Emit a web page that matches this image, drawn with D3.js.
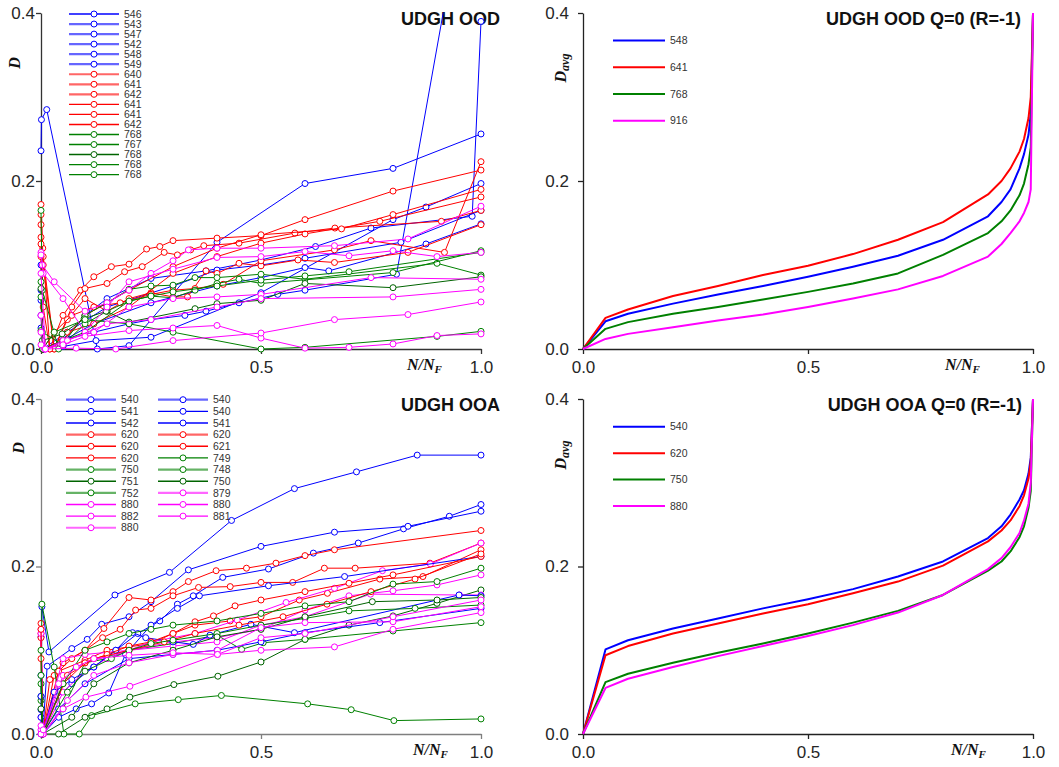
<!DOCTYPE html>
<html>
<head>
<meta charset="utf-8">
<script src="https://cdn.jsdelivr.net/npm/d3@7"></script>
<style>
  body { margin: 0; background: #fff; }
  svg { display: block; }
  text { font-family: "Liberation Sans", Arial, sans-serif; }
</style>
</head>
<body>
<svg id="chart" width="1059" height="767"></svg>
<script>
// ---------------- data ----------------
const xTicks = [0, 0.5, 1.0];
const yTicks = [0, 0.2, 0.4];

// UDGH OOD: damage D vs N/NF, one series per specimen
const oodLabels = ["546","543","547","542","548","549","640","641","642","641","641","642","768","767","768","768","768"];
const oodX = [
  [0,0.001,0.013,0.128,0.2,0.4,0.6,0.8,1.0],
  [0,0.004,0.06,0.12,0.2,0.25,0.327,0.375,0.45,0.538,0.6,0.808,0.93],
  [0,0.005,0.05,0.1,0.15,0.25,0.375,0.5,0.624,0.75,0.98,1.0],
  [0,0.005,0.05,0.125,0.25,0.5,0.8,0.875,1.0],
  [0,0.005,0.05,0.12,0.25,0.4,0.5,0.6,0.654,0.875,1.0],
  [0,0.004,0.06,0.15,0.3,0.4,0.5,0.6,0.818,1.0],
  [0,0.004,0.02,0.05,0.09,0.12,0.16,0.2,0.24,0.27,0.3,0.4,0.5,0.6,0.8,1.0],
  [0,0.005,0.03,0.07,0.1,0.15,0.19,0.23,0.28,0.31,0.34,0.37,0.45,0.577,0.668,0.91,1.0],
  [0,0.005,0.03,0.06,0.1,0.15,0.2,0.25,0.3,0.333,0.375,0.4,0.45,0.5,0.584,0.667,0.834,1.0],
  [0,0.004,0.03,0.07,0.12,0.18,0.25,0.3,0.35,0.414,0.5,0.667,0.75,0.917,1.0],
  [0,0.005,0.02,0.06,0.12,0.2,0.3,0.4,0.5,0.6,0.77,1.0],
  [0,0.003,0.05,0.1,0.2,0.3,0.4,0.5,0.683,0.8,1.0],
  [0,0.003,0.04,0.1,0.15,0.2,0.25,0.3,0.35,0.4,0.5,0.6,0.9,1.0],
  [0,0.003,0.05,0.1,0.15,0.2,0.25,0.3,0.35,0.4,0.45,0.5,0.8,1.0],
  [0,0.003,0.048,0.098,0.148,0.2,0.35,0.4,0.5,0.6,0.8,1.0],
  [0,0.004,0.03,0.1,0.2,0.3,0.5,0.6,0.9,1.0],
  [0,0.004,0.05,0.1,0.2,0.25,0.3,0.4,0.5,0.6,0.7,1.0],
  [0,0.003,0.03,0.1,0.15,0.2,0.25,0.3,0.335,0.4,0.5,0.667,0.834,1.0],
  [0,0.005,0.05,0.1,0.15,0.2,0.3,0.4,0.5,0.6,0.7,0.8,0.9,1.0],
  [0,0.01,0.05,0.12,0.2,0.3,0.4,0.5,0.75,1.0],
  [0,0.01,0.06,0.15,0.25,0.4,0.5,0.8,1.0],
  [0,0.008,0.05,0.1,0.2,0.3,0.4,0.5,0.6,0.7,0.8,0.9,1.0],
  [0,0.01,0.08,0.17,0.3,0.5,0.667,0.834,1.0]
];
const oodD = [
  [0.236,0.273,0.285,0.0,0.004,0.127,0.197,0.215,0.256],
  [0.1,0.0,0.012,0.02,0.03,0.035,0.04,0.045,0.055,0.065,0.07,0.089,0.447],
  [0.058,0.0,0.01,0.04,0.06,0.084,0.093,0.106,0.122,0.144,0.158,0.39],
  [0.04,0.0,0.003,0.01,0.014,0.067,0.154,0.169,0.197],
  [0.025,0.0,0.01,0.03,0.055,0.075,0.085,0.097,0.093,0.125,0.149],
  [0.07,0.0,0.02,0.05,0.075,0.094,0.1,0.108,0.127,0.165],
  [0.172,0.12,0.0,0.04,0.07,0.086,0.098,0.101,0.119,0.122,0.129,0.132,0.135,0.154,0.188,0.213],
  [0.133,0.1,0.0,0.05,0.072,0.078,0.092,0.098,0.115,0.112,0.118,0.123,0.126,0.138,0.144,0.152,0.165],
  [0.148,0.11,0.0,0.035,0.06,0.045,0.06,0.067,0.062,0.062,0.093,0.09,0.102,0.099,0.106,0.103,0.115,0.148],
  [0.11,0.0,0.02,0.04,0.05,0.055,0.065,0.07,0.072,0.077,0.105,0.118,0.129,0.115,0.223],
  [0.16,0.05,0.0,0.02,0.03,0.05,0.09,0.11,0.126,0.137,0.152,0.181],
  [0.125,0.0,0.01,0.04,0.07,0.098,0.12,0.136,0.143,0.16,0.19],
  [0.165,0.07,0.0,0.04,0.055,0.071,0.075,0.076,0.085,0.085,0.089,0.083,0.102,0.088],
  [0.08,0.02,0.005,0.03,0.045,0.057,0.063,0.061,0.07,0.078,0.083,0.078,0.091,0.117],
  [0.072,0.01,0.018,0.036,0.045,0.032,0.048,0.054,0.058,0.078,0.073,0.086],
  [0.022,0.0,0.02,0.035,0.03,0.02,0.0,0.002,0.015,0.021],
  [0.062,0.0,0.01,0.02,0.057,0.063,0.068,0.075,0.082,0.087,0.092,0.115],
  [0.115,0.1,0.08,0.045,0.055,0.07,0.09,0.105,0.118,0.12,0.12,0.123,0.131,0.17],
  [0.112,0.09,0.06,0.02,0.05,0.08,0.095,0.109,0.11,0.116,0.111,0.117,0.11,0.115],
  [0.09,0.0,0.01,0.02,0.05,0.06,0.062,0.065,0.085,0.083],
  [0.04,0.0,0.01,0.03,0.035,0.05,0.06,0.062,0.071],
  [0.02,0.0,0.005,0.015,0.022,0.025,0.028,0.013,0.001,0.002,0.006,0.016,0.018],
  [0.005,0.0,0.001,0.0,0.01,0.019,0.035,0.041,0.056]
];

// UDGH OOA: damage D vs N/NF (legend: first 12 in column one, rest in column two)
const ooaLabels = ["540","541","542","620","620","620","750","751","752","880","882","880",
                   "540","540","541","620","621","749","748","750","879","880","881"];
const ooaX = [
  [0,0.002,0.018,0.168,0.292,0.433,0.576,0.717,0.855,1.0],
  [0,0.004,0.03,0.07,0.12,0.17,0.22,0.27,0.31,0.346,0.413,0.517,0.619,0.721,0.824,0.928,1.0],
  [0,0.004,0.014,0.07,0.105,0.138,0.2,0.25,0.335,0.5,0.667,0.834,1.0],
  [0,0.004,0.02,0.05,0.1,0.143,0.2,0.25,0.3,0.335,0.398,0.467,0.534,0.6,0.667,1.0],
  [0,0.004,0.03,0.07,0.1,0.14,0.18,0.215,0.25,0.3,0.358,0.43,0.5,0.572,0.644,0.714,0.884,1.0],
  [0,0.004,0.04,0.1,0.15,0.2,0.25,0.3,0.35,0.43,0.5,0.587,0.651,0.77,0.868,1.0],
  [0,0.002,0.03,0.052,0.087,0.115,0.214,0.312,0.41,0.606,0.705,0.802,1.0],
  [0,0.004,0.04,0.1,0.15,0.202,0.302,0.402,0.5,0.6,0.7,0.8,0.9,1.0],
  [0,0.004,0.05,0.1,0.15,0.2,0.3,0.4,0.456,0.505,0.6,0.8,1.0],
  [0,0.005,0.05,0.1,0.15,0.2,0.25,0.3,0.35,0.446,0.557,0.667,0.776,0.885,1.0],
  [0,0.005,0.05,0.1,0.2,0.3,0.4,0.5,0.6,0.7,0.8,0.9,1.0],
  [0,0.005,0.05,0.1,0.2,0.3,0.4,0.5,0.6,0.749,0.951,1.0],
  [0,0.004,0.04,0.08,0.115,0.154,0.192,0.25,0.31,0.36,0.517,0.69,1.0],
  [0,0.003,0.03,0.07,0.12,0.17,0.208,0.238,0.3,0.346,0.384,0.477,0.576,0.95,1.0],
  [0,0.003,0.04,0.1,0.2,0.3,0.4,0.5,0.6,0.77,1.0],
  [0,0.004,0.05,0.1,0.15,0.2,0.25,0.3,0.35,0.392,0.441,0.5,0.6,0.7,0.8,1.0],
  [0,0.004,0.06,0.12,0.2,0.28,0.35,0.45,0.55,0.65,0.75,0.85,1.0],
  [0,0.004,0.05,0.1,0.15,0.2,0.25,0.3,0.4,0.5,0.6,0.7,0.8,0.9,1.0],
  [0,0.004,0.06,0.1,0.16,0.2,0.25,0.3,0.4,0.5,0.6,0.7,0.85,1.0],
  [0,0.004,0.07,0.12,0.2,0.3,0.4,0.5,0.6,0.753,0.9,1.0],
  [0,0.005,0.06,0.12,0.2,0.3,0.401,0.5,0.6,0.8,1.0],
  [0,0.005,0.05,0.102,0.202,0.401,0.5,0.667,0.8,1.0],
  [0,0.005,0.04,0.08,0.12,0.2,0.3,0.401,0.5,0.6,0.8,1.0]
];
const ooaD = [
  [0.0,0.152,0.098,0.166,0.193,0.255,0.293,0.313,0.333,0.333],
  [0.029,0.0,0.04,0.06,0.08,0.1,0.12,0.135,0.155,0.165,0.187,0.197,0.216,0.228,0.245,0.26,0.274],
  [0.116,0.0,0.081,0.102,0.113,0.131,0.14,0.158,0.196,0.224,0.241,0.248,0.266],
  [0.132,0.0,0.065,0.085,0.1,0.126,0.163,0.16,0.17,0.182,0.195,0.198,0.204,0.213,0.22,0.243],
  [0.12,0.0,0.07,0.09,0.1,0.115,0.125,0.148,0.15,0.165,0.175,0.176,0.181,0.181,0.198,0.198,0.204,0.228],
  [0.115,0.0,0.075,0.088,0.1,0.104,0.108,0.12,0.13,0.135,0.14,0.16,0.168,0.185,0.188,0.22],
  [0.04,0.155,0.08,0.0,0.0,0.022,0.036,0.041,0.046,0.036,0.029,0.016,0.018],
  [0.045,0.0,0.0,0.02,0.03,0.044,0.059,0.069,0.086,0.113,0.13,0.141,0.156,0.172],
  [0.06,0.0,0.03,0.085,0.09,0.1,0.108,0.118,0.101,0.109,0.113,0.123,0.133],
  [0.02,0.0,0.05,0.075,0.09,0.1,0.11,0.115,0.12,0.136,0.157,0.174,0.195,0.203,0.228],
  [0.12,0.0,0.07,0.085,0.1,0.11,0.115,0.125,0.148,0.165,0.171,0.178,0.19],
  [0.125,0.0,0.09,0.095,0.1,0.105,0.11,0.13,0.14,0.167,0.166,0.166],
  [0.07,0.0,0.02,0.03,0.036,0.049,0.095,0.13,0.15,0.165,0.177,0.188,0.212],
  [0.045,0.0,0.05,0.065,0.08,0.1,0.121,0.115,0.11,0.107,0.118,0.131,0.121,0.166,0.165],
  [0.02,0.0,0.03,0.06,0.09,0.095,0.1,0.11,0.121,0.133,0.15],
  [0.125,0.0,0.06,0.085,0.095,0.105,0.11,0.12,0.134,0.141,0.153,0.16,0.17,0.18,0.19,0.212],
  [0.09,0.0,0.07,0.09,0.1,0.11,0.12,0.13,0.14,0.155,0.17,0.185,0.215],
  [0.1,0.0,0.06,0.1,0.11,0.12,0.125,0.13,0.135,0.144,0.153,0.158,0.179,0.182,0.198],
  [0.07,0.0,0.05,0.075,0.09,0.1,0.108,0.112,0.12,0.13,0.138,0.147,0.15,0.154],
  [0.03,0.0,0.02,0.06,0.085,0.1,0.116,0.125,0.14,0.158,0.16,0.163],
  [0.005,0.0,0.04,0.07,0.085,0.095,0.1,0.127,0.133,0.134,0.152],
  [0.01,0.0,0.03,0.044,0.057,0.095,0.1,0.104,0.125,0.145],
  [0.0,0.005,0.06,0.08,0.09,0.094,0.097,0.095,0.115,0.12,0.14,0.16]
];

// Averaged curves, Q=0 (R=-1)
const avgX = [0,0.05,0.1,0.2,0.3,0.4,0.5,0.6,0.7,0.8,0.9,0.93,0.95,0.97,0.98,0.99,0.995,1.0];
const oodAvgLabels = ["548","641","768","916"];
const oodAvgD = [
  [0,0.033,0.042,0.054,0.065,0.075,0.086,0.098,0.111,0.13,0.158,0.175,0.19,0.215,0.232,0.255,0.28,0.4],
  [0,0.037,0.047,0.063,0.075,0.088,0.099,0.113,0.13,0.151,0.184,0.2,0.215,0.235,0.25,0.275,0.3,0.4],
  [0,0.024,0.032,0.042,0.05,0.059,0.068,0.078,0.09,0.112,0.138,0.152,0.165,0.183,0.197,0.22,0.24,0.4],
  [0,0.012,0.018,0.026,0.034,0.041,0.05,0.06,0.071,0.087,0.11,0.125,0.138,0.152,0.162,0.175,0.19,0.4]
];
const ooaAvgLabels = ["540","620","750","880"];
const ooaAvgD = [
  [0,0.101,0.112,0.126,0.138,0.15,0.161,0.173,0.188,0.206,0.234,0.248,0.262,0.28,0.291,0.311,0.33,0.4],
  [0,0.094,0.105,0.12,0.132,0.144,0.155,0.168,0.182,0.201,0.23,0.243,0.255,0.272,0.285,0.305,0.325,0.4],
  [0,0.062,0.072,0.085,0.097,0.108,0.12,0.133,0.147,0.166,0.195,0.206,0.218,0.235,0.248,0.27,0.29,0.4],
  [0,0.055,0.066,0.08,0.093,0.105,0.117,0.13,0.145,0.166,0.197,0.21,0.223,0.24,0.255,0.275,0.3,0.4]
];

// ---------------- styles ----------------
const BLUE = "#0000ff", RED = "#ff0000", GREEN = "#008000", DKGREEN = "#006400", MAGENTA = "#ff00ff";
const oodColors = [BLUE,BLUE,BLUE,BLUE,BLUE,BLUE, RED,RED,RED,RED,RED,RED,
                   GREEN,GREEN,DKGREEN,GREEN,GREEN, MAGENTA,MAGENTA,MAGENTA,MAGENTA,MAGENTA,MAGENTA];
const oodLegendSoft = [false,true,true,true,true,true, true,true,true,false,false,false, false,false,false,false,false];
const ooaColors = [BLUE,BLUE,BLUE, RED,RED,RED, GREEN,DKGREEN,GREEN, MAGENTA,MAGENTA,MAGENTA,
                   BLUE,BLUE,BLUE, RED,RED, GREEN,GREEN,DKGREEN, MAGENTA,MAGENTA,MAGENTA];
const ooaLegendSoft = [true,false,false, true,false,false, true,false,true, false,false,true,
                       true,false,false, true,false, false,true,false, true,false,false];
const avgColors = [BLUE, RED, GREEN, MAGENTA];

const svg = d3.select("#chart");
const serif = "'Liberation Serif','DejaVu Serif',serif";

function frame(box) {
  const x = d3.scaleLinear().domain([0, 1]).range([box.left, box.right]);
  const y = d3.scaleLinear().domain([0, 0.4]).range([box.bottom, box.top]);
  const g = svg.append("g");

  const ya = g.append("g")
    .attr("transform", `translate(${box.left},0)`)
    .call(d3.axisLeft(y).tickValues(yTicks).tickFormat(d3.format(".1f"))
      .tickSize(5).tickSizeOuter(0).tickPadding(box.yPad));
  const xa = g.append("g")
    .attr("transform", `translate(0,${box.bottom})`)
    .call(d3.axisBottom(x).tickValues(xTicks).tickFormat(d3.format(".1f"))
      .tickSize(5).tickSizeOuter(0).tickPadding(7));
  [ya, xa].forEach(a => {
    a.select(".domain").attr("stroke", box.axis).attr("stroke-width", 1.3);
    a.selectAll(".tick line").attr("stroke", box.axis).attr("stroke-width", 1.3);
    a.selectAll(".tick text").attr("fill", "#262626")
      .style("font-family", "'Liberation Sans', Arial, sans-serif").style("font-size", "17px");
  });

  // title
  g.append("text").attr("x", box.titleRight).attr("y", box.top + 12)
    .attr("text-anchor", "end").attr("fill", "#111")
    .style("font-size", "18px").style("font-weight", "bold").text(box.title);

  // y label
  const yl = g.append("text")
    .attr("transform", `translate(${box.yLabelX},${box.top + box.yLabelDy}) rotate(-90)`)
    .attr("text-anchor", "middle").attr("dominant-baseline", "middle")
    .style("font-family", serif).style("font-style", "italic").style("font-weight", "bold")
    .style("font-size", "16px").attr("fill", "#111");
  yl.append("tspan").text("D");
  if (box.avg) yl.append("tspan").attr("dy", 4).style("font-size", "12px").text("avg");

  // x label
  const xl = g.append("text").attr("x", box.xLabelX).attr("y", box.bottom + 21)
    .style("font-family", serif).style("font-style", "italic").style("font-weight", "bold")
    .style("font-size", "16px").attr("fill", "#111");
  xl.append("tspan").text("N/N");
  xl.append("tspan").attr("dy", 3).style("font-size", "11px").text("F");

  return { g, x, y };
}

function clipFor(id, box) {
  svg.append("clipPath").attr("id", id).append("rect")
    .attr("x", box.left - 10).attr("y", box.top - 0.5)
    .attr("width", box.right - box.left + 20).attr("height", box.bottom - box.top + 12);
  return `url(#${id})`;
}

// ------- panels with individual specimens -------
function specimenPanel(box, xs, ds, colors, labels, soft, legendPos) {
  const { g, x, y } = frame(box);
  const plot = g.append("g").attr("clip-path", clipFor(box.id, box));
  const line = d3.line().x(p => x(p[0])).y(p => y(p[1]));
  xs.forEach((xv, i) => {
    const pts = d3.zip(xv, ds[i]);
    const s = plot.append("g");
    s.append("path").attr("d", line(pts)).attr("fill", "none")
      .attr("stroke", colors[i]).attr("stroke-width", 1);
    s.selectAll("circle").data(pts).join("circle")
      .attr("cx", p => x(p[0])).attr("cy", p => y(p[1])).attr("r", 3)
      .attr("fill", "#fff").attr("stroke", colors[i]).attr("stroke-width", 1);
  });

  // legend
  const lg = g.append("g");
  labels.forEach((lab, i) => {
    const p = legendPos(i);
    const row = lg.append("g").attr("transform", `translate(${p.x},${p.y})`);
    row.append("line").attr("x1", 0).attr("x2", p.len).attr("y1", 0).attr("y2", 0)
      .attr("stroke", colors[i]).attr("stroke-width", soft[i] ? 2.2 : 1.4)
      .attr("stroke-opacity", soft[i] ? 0.6 : 1);
    row.append("circle").attr("cx", p.len / 2).attr("cy", 0).attr("r", 3)
      .attr("fill", "#fff").attr("stroke", colors[i]).attr("stroke-width", 1);
    row.append("text").attr("x", p.len + 5).attr("y", 0).attr("dy", "0.35em")
      .style("font-size", "10.5px").attr("fill", "#333").text(lab);
  });
}

// ------- averaged curve panels -------
function averagePanel(box, ds, colors, labels, legendTop, legendStep) {
  const { g, x, y } = frame(box);
  const plot = g.append("g").attr("clip-path", clipFor(box.id, box));
  const line = d3.line().x(p => x(p[0])).y(p => y(p[1]));
  ds.forEach((dv, i) => {
    plot.append("path").attr("d", line(d3.zip(avgX, dv))).attr("fill", "none")
      .attr("stroke", colors[i]).attr("stroke-width", 2).attr("stroke-linejoin", "round");
  });
  labels.forEach((lab, i) => {
    const yy = legendTop + i * legendStep;
    g.append("line").attr("x1", box.left + 30).attr("x2", box.left + 82)
      .attr("y1", yy).attr("y2", yy).attr("stroke", colors[i]).attr("stroke-width", 2);
    g.append("text").attr("x", box.left + 87).attr("y", yy).attr("dy", "0.35em")
      .style("font-size", "10.5px").attr("fill", "#333").text(lab);
  });
}

const TL = { id: "cTL", left: 41, right: 481, top: 13, bottom: 349, axis: "#333", yPad: 1,
  title: "UDGH OOD", titleRight: 500, yLabelX: 16, yLabelDy: 50, xLabelX: 407, avg: false };
const TR = { id: "cTR", left: 583, right: 1033, top: 13, bottom: 349, axis: "#222", yPad: 9,
  title: "UDGH OOD Q=0 (R=-1)", titleRight: 1021, yLabelX: 562, yLabelDy: 55, xLabelX: 945, avg: true };
const BL = { id: "cBL", left: 41, right: 481, top: 399, bottom: 734, axis: "#7f7f7f", yPad: 1,
  title: "UDGH OOA", titleRight: 500, yLabelX: 20, yLabelDy: 49, xLabelX: 413, avg: false };
const BR = { id: "cBR", left: 583, right: 1033, top: 399, bottom: 734, axis: "#222", yPad: 9,
  title: "UDGH OOA Q=0 (R=-1)", titleRight: 1022, yLabelX: 562, yLabelDy: 56, xLabelX: 951, avg: true };

specimenPanel(TL, oodX, oodD, oodColors, oodLabels, oodLegendSoft,
  i => ({ x: 69, y: 14 + i * 10.04, len: 50 }));
averagePanel(TR, oodAvgD, avgColors, oodAvgLabels, 40.4, 26.8);
specimenPanel(BL, ooaX, ooaD, ooaColors, ooaLabels, ooaLegendSoft,
  i => i < 12 ? { x: 66, y: 399.7 + i * 11.64, len: 50 }
              : { x: 158, y: 399.7 + (i - 12) * 11.64, len: 50 });
averagePanel(BR, ooaAvgD, avgColors, ooaAvgLabels, 426.8, 26.4);
</script>
</body>
</html>
